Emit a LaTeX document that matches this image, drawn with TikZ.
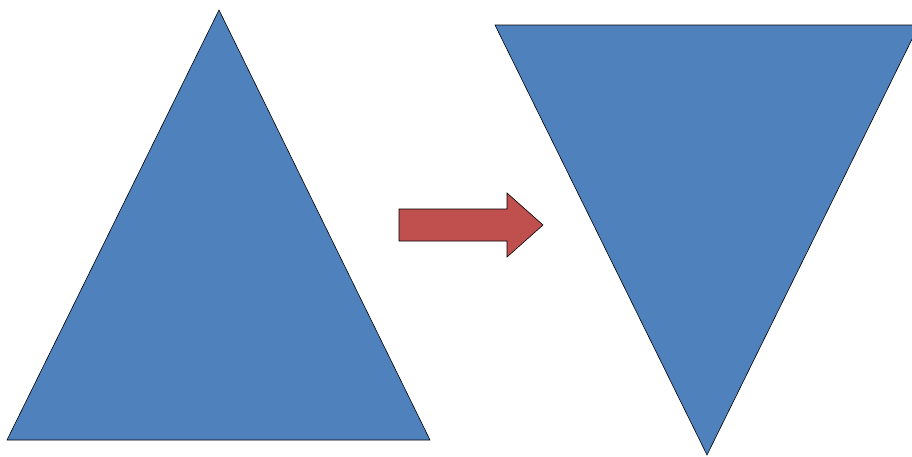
\documentclass[tikz,border=0pt]{standalone}
\usepackage{tikz}
\usetikzlibrary{calc}

\definecolor{triblue}{HTML}{4F81BD}
\definecolor{arrred}{HTML}{C0504D}

\begin{document}
\begin{tikzpicture}[x=1pt, y=-1pt, line join=miter,
    tri/.style={draw=black, line width=0.6pt, fill=triblue},
    blockarrow/.style={draw=black, line width=0.6pt, fill=arrred}]
    \useasboundingbox (0,0) rectangle (912,456);
    \clip (0,0) rectangle (912,456);

    % original triangle
    \draw[tri] (219,10) -- (430,440) -- (7,440) -- cycle;

    % block arrow
    \draw[blockarrow] (399,209) -- (507,209) -- (507,193) -- (543,225)
        -- (507,257) -- (507,241) -- (399,241) -- cycle;

    % flipped triangle
    \draw[tri] (495,25) -- (919,25) -- (707,455) -- cycle;
\end{tikzpicture}
\end{document}
